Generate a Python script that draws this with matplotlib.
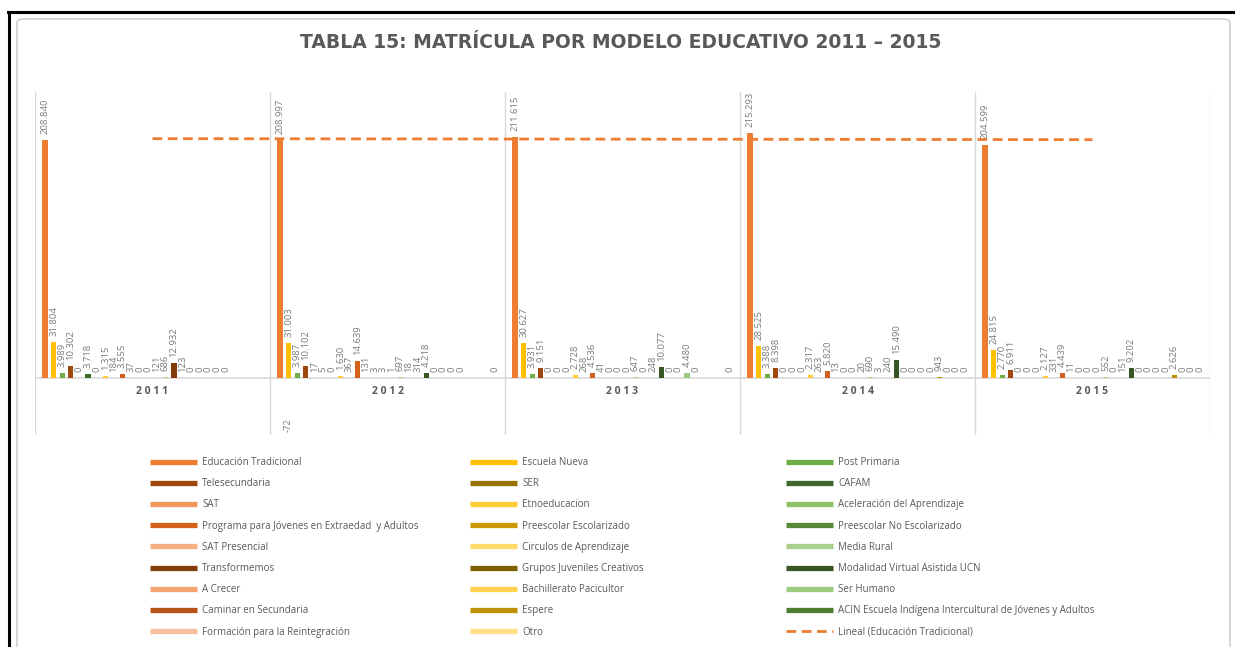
import numpy as np
import matplotlib
matplotlib.use("Agg")
import matplotlib.pyplot as plt
from matplotlib.lines import Line2D
from matplotlib.patches import FancyBboxPatch

nan = np.nan

years = ['2011', '2012', '2013', '2014', '2015']

series = ['Educación Tradicional', 'Escuela Nueva', 'Post Primaria',
          'Telesecundaria', 'SER', 'CAFAM',
          'SAT', 'Etnoeducacion', 'Aceleración del Aprendizaje',
          'Programa para Jóvenes en Extraedad  y Adultos', 'Preescolar Escolarizado', 'Preescolar No Escolarizado',
          'SAT Presencial', 'Circulos de Aprendizaje', 'Media Rural',
          'Transformemos', 'Grupos Juveniles Creativos', 'Modalidad Virtual Asistida UCN',
          'A Crecer', 'Bachillerato Pacicultor', 'Ser Humano',
          'Caminar en Secundaria', 'Espere', 'ACIN Escuela Indígena Intercultural de Jóvenes y Adultos',
          'Formación para la Reintegración', 'Otro']

colors = ['#ED7D31', '#FFC000', '#70AD47',
          '#9E480E', '#997300', '#43682B',
          '#F1975A', '#FFCD33', '#8CC168',
          '#D0601A', '#CC9A00', '#5A8A39',
          '#F4B183', '#FFD966', '#A9D08E',
          '#843C0C', '#7F6000', '#375623',
          '#F3A46F', '#FFD34F', '#9DCB7E',
          '#B85418', '#BF9000', '#4E7D32',
          '#F6C0A0', '#FFE085']

# matricula por anio (nan = sin dato)
y2011 = [208840, 31804, 3989, 10302, 0, 3718, 0, 1315, 184, 3555, 37, 0, 0,
         121, 686, 12932, 123, 0, 0, 0, 0, 0, nan, nan, nan, -72]
y2012 = [208997, 31003, 3987, 10102, 17, 5, 0, 1630, 367, 14639, 131, 3, 3,
         1, 697, 18, 314, 4218, 0, 0, 0, 0, nan, nan, nan, 0]
y2013 = [211615, 30627, 3931, 9151, 0, 0, 0, 2728, 268, 4536, 41, 0, 0,
         0, 647, 0, 248, 10077, 0, 0, 4480, 0, nan, nan, nan, 0]
y2014 = [215293, 28525, 3388, 8398, 0, 0, 0, 2317, 263, 5820, 13, 0, 0,
         20, 690, 3, 240, 15490, 0, 0, 0, 0, 943, 0, 0, 0]
y2015 = [204599, 24815, 2770, 6911, 0, 0, 0, 2127, 331, 4439, 11, 0, 0,
         0, 552, 0, 151, 9202, 0, 0, 0, 0, 2626, 0, 0, 0]

data = np.array([y2011, y2012, y2013, y2014, y2015], dtype=float)  # years x series

W, H = 1235, 647
fig = plt.figure(figsize=(W / 100, H / 100), dpi=100)

# frame of the screenshot
fig.add_artist(FancyBboxPatch((17 / W, -0.05), (1230 - 17) / W, 1 - 19 / H + 0.05,
                              boxstyle='round,pad=0,rounding_size=0.006',
                              transform=fig.transFigure, fc='white', ec='#d0d0d0',
                              lw=1.2, zorder=-5))
fig.add_artist(Line2D([8 / W, 1], [1 - 12 / H] * 2, color='black', lw=2.2))
fig.add_artist(Line2D([9 / W] * 2, [0, 1 - 12 / H], color='black', lw=2.2))

ax = fig.add_axes([35 / W, 1 - 435 / H, (1210 - 35) / W, (435 - 92) / H])
ax.set_xlim(-0.5, len(years) - 0.5)
ax.set_ylim(-50100, 251300)
ax.axis('off')
ax.set_zorder(2)

gray = '#595959'
lab = '#7a7a7a'
n = len(series)
step = 0.0366
bw = 0.022
x = np.arange(len(years))

for j in range(n):
    xs = x + (j - (n - 1) / 2) * step
    vals = data[:, j]
    ax.bar(xs, np.nan_to_num(vals), width=bw, color=colors[j], zorder=3)
    for xi, v in zip(xs, vals):
        if np.isnan(v):
            continue
        txt = f'{int(v):,}'.replace(',', '.')
        if v >= 0:
            ax.annotate(txt, (xi, v), xytext=(0, 6), textcoords='offset pixels',
                        rotation=90, ha='center', va='bottom', fontsize=6.8,
                        color=lab, family='Open Sans')
        else:
            ax.annotate(txt, (xi, v), xytext=(28, -47), textcoords='offset pixels',
                        rotation=90, ha='center', va='center', fontsize=6.8,
                        color=lab, family='Open Sans')

# trendline (linear) for Educación Tradicional
coef = np.polyfit(x, data[:, 0], 1)
ax.plot(x, np.polyval(coef, x), color='#ED7D31', lw=2, linestyle=(0, (3.5, 2)), zorder=4)

# separators and baseline
for b in np.arange(-0.5, len(years), 1.0):
    ax.axvline(b, color='#d9d9d9', lw=1, zorder=1)
ax.axhline(0, color='#d9d9d9', lw=1.2, zorder=2)

for i, yr in enumerate(years):
    ax.text(i, -12000, ' '.join(yr), ha='center', va='center', fontsize=7.5,
            fontweight='bold', color=gray, family='Open Sans')

fig.text(621 / W, 1 - 43 / H, 'TABLA 15: MATRÍCULA POR MODELO EDUCATIVO 2011 – 2015',
         ha='center', va='center', fontsize=13.5, fontweight='bold', color=gray,
         family='DejaVu Sans')

# legend in three columns
handles = [Line2D([], [], color=c, lw=3.8, solid_capstyle='butt') for c in colors]
handles.append(Line2D([], [], color='#ED7D31', lw=2, linestyle=(0, (3.5, 2))))
labels = series + ['Lineal (Educación Tradicional)']
col_x = [150, 470, 786]
for c in range(3):
    idx = list(range(c, len(labels), 3))
    leg = fig.legend([handles[k] for k in idx], [labels[k] for k in idx],
                     loc='upper left', bbox_to_anchor=(col_x[c] / W, 1 - 457 / H),
                     frameon=False, handlelength=4.8, handletextpad=0.55,
                     labelspacing=1.05, borderpad=0, borderaxespad=0,
                     prop={'family': 'Open Sans', 'size': 7})
    for t in leg.get_texts():
        t.set_color(gray)

fig.savefig('out.png', dpi=100)
